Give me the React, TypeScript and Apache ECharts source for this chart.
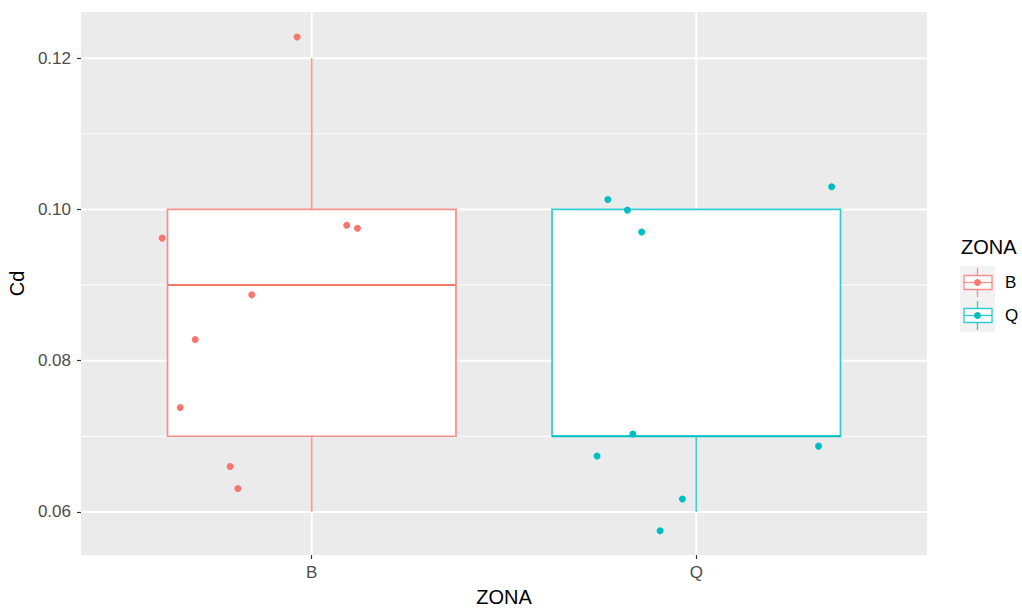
import React, { useEffect, useRef } from 'react';
import * as echarts from 'echarts';

const categories = ['B', 'Q'];
const zoneColors = ['#F8766D', '#00BFC4'];
// box stats per zone: [lower whisker, Q1, median, Q3, upper whisker]
const boxB = [0.06, 0.07, 0.09, 0.1, 0.12];
const boxQ = [0.06, 0.07, 0.07, 0.1, 0.1];
// jittered points (x in category units, B = 1, Q = 2)
const pointsBx = [0.962, 0.611, 1.091, 1.119, 0.844, 0.697, 0.658, 0.788, 0.808];
const pointsBy = [0.1228, 0.0962, 0.0979, 0.0975, 0.0887, 0.0828, 0.0738, 0.066, 0.0631];
const pointsQx = [1.77, 1.821, 1.858, 2.352, 1.835, 1.742, 2.318, 1.964, 1.906];
const pointsQy = [0.1013, 0.0999, 0.097, 0.103, 0.0703, 0.0674, 0.0687, 0.0617, 0.0575];
const yTicks = [0.06, 0.08, 0.1, 0.12];
const yMinor = [0.07, 0.09, 0.11];
const xTicks = [1, 2];

const X_MIN = 0.4;
const X_MAX = 2.6;
const Y_MIN = 0.0543;
const Y_MAX = 0.1261;

const FONT = '"Liberation Sans", Arial, sans-serif';

export default function App() {
  const ref = useRef<HTMLDivElement>(null);

  useEffect(() => {
    if (!ref.current) return;
    const chart = echarts.init(ref.current, null, { renderer: 'svg' });

    const gridData: number[][] = [];
    yTicks.forEach((v) => gridData.push([X_MIN, v, 2, 0]));
    yMinor.forEach((v) => gridData.push([X_MIN, v, 1, 0]));
    xTicks.forEach((v) => gridData.push([v, Y_MIN, 2, 1]));

    const boxData = [
      [1, ...boxB, 0],
      [2, ...boxQ, 1],
    ];

    const legendKey = (cy: number, color: string) => ({
      type: 'group',
      children: [
        { type: 'rect', shape: { x: 960, y: cy - 16.5, width: 35, height: 33 }, style: { fill: '#F2F2F2' } },
        { type: 'line', shape: { x1: 977.5, y1: cy - 14.5, x2: 977.5, y2: cy + 14.5 }, style: { stroke: color, lineWidth: 1.3, opacity: 0.8 } },
        { type: 'rect', shape: { x: 964, y: cy - 7, width: 28, height: 14 }, style: { fill: '#FFFFFF', stroke: color, lineWidth: 1.3, strokeOpacity: 0.8 } },
        { type: 'line', shape: { x1: 964, y1: cy, x2: 992, y2: cy }, style: { stroke: color, lineWidth: 1.3, opacity: 0.8 } },
        { type: 'circle', shape: { cx: 977.5, cy, r: 3.4 }, style: { fill: color } },
      ],
    });

    chart.setOption({
      animation: false,
      backgroundColor: '#FFFFFF',
      textStyle: { fontFamily: FONT },
      grid: {
        left: 81,
        right: 95,
        top: 12,
        bottom: 54,
        outerBoundsMode: 'none',
        containLabel: false,
        show: true,
        backgroundColor: '#EBEBEB',
        borderWidth: 0,
      },
      xAxis: {
        type: 'value',
        min: X_MIN,
        max: X_MAX,
        axisLine: { show: false },
        splitLine: { show: false },
        axisTick: {
          show: true,
          customValues: xTicks,
          length: 4,
          lineStyle: { color: '#333333', width: 1.2 },
        },
        axisLabel: {
          customValues: xTicks,
          formatter: (v: number) => categories[Math.round(v) - 1] ?? '',
          color: '#4D4D4D',
          fontSize: 17,
          margin: 9,
          fontFamily: FONT,
        },
        name: 'ZONA',
        nameLocation: 'middle',
        nameGap: 32,
        nameTextStyle: { fontSize: 20, color: '#000000', fontFamily: FONT },
      },
      yAxis: {
        type: 'value',
        min: Y_MIN,
        max: Y_MAX,
        axisLine: { show: false },
        splitLine: { show: false },
        axisTick: {
          show: true,
          customValues: yTicks,
          length: 4,
          lineStyle: { color: '#333333', width: 1.2 },
        },
        axisLabel: {
          customValues: yTicks,
          formatter: (v: number) => v.toFixed(2),
          color: '#4D4D4D',
          fontSize: 17,
          margin: 10,
          fontFamily: FONT,
        },
        name: 'Cd',
        nameLocation: 'middle',
        nameGap: 54,
        nameTextStyle: { fontSize: 20, color: '#000000', fontFamily: FONT },
      },
      graphic: [
        {
          type: 'text',
          x: 961,
          y: 247,
          style: { text: 'ZONA', fill: '#000000', font: `20px ${FONT}`, verticalAlign: 'middle' },
        },
        legendKey(282.5, zoneColors[0]),
        legendKey(315.5, zoneColors[1]),
        {
          type: 'text',
          x: 1005,
          y: 282.5,
          style: { text: categories[0], fill: '#000000', font: `17px ${FONT}`, verticalAlign: 'middle' },
        },
        {
          type: 'text',
          x: 1005,
          y: 315.5,
          style: { text: categories[1], fill: '#000000', font: `17px ${FONT}`, verticalAlign: 'middle' },
        },
      ],
      series: [
        {
          type: 'custom',
          name: 'grid',
          z: 1,
          silent: true,
          encode: { x: 0, y: 1 },
          data: gridData,
          renderItem: (params: any, api: any) => {
            const cs = params.coordSys;
            const w = api.value(2);
            const vertical = api.value(3) === 1;
            if (vertical) {
              const px = api.coord([api.value(0), Y_MIN])[0];
              return {
                type: 'line',
                shape: { x1: px, y1: cs.y, x2: px, y2: cs.y + cs.height },
                style: { stroke: '#FFFFFF', lineWidth: w },
              };
            }
            const py = api.coord([X_MIN, api.value(1)])[1];
            return {
              type: 'line',
              shape: { x1: cs.x, y1: py, x2: cs.x + cs.width, y2: py },
              style: { stroke: '#FFFFFF', lineWidth: w },
            };
          },
        },
        {
          type: 'custom',
          name: 'box',
          z: 2,
          silent: true,
          encode: { x: 0, y: [1, 2, 3, 4, 5] },
          data: boxData,
          renderItem: (params: any, api: any) => {
            const x = api.value(0);
            const color = zoneColors[api.value(6)];
            const half = api.size([0.375, 0])[0];
            const cx = api.coord([x, api.value(1)])[0];
            const yLow = api.coord([x, api.value(1)])[1];
            const yQ1 = api.coord([x, api.value(2)])[1];
            const yMed = api.coord([x, api.value(3)])[1];
            const yQ3 = api.coord([x, api.value(4)])[1];
            const yHigh = api.coord([x, api.value(5)])[1];
            const lw = 1.7;
            return {
              type: 'group',
              children: [
                { type: 'line', shape: { x1: cx, y1: yHigh, x2: cx, y2: yQ3 }, style: { stroke: color, lineWidth: lw, opacity: 0.75 } },
                { type: 'line', shape: { x1: cx, y1: yQ1, x2: cx, y2: yLow }, style: { stroke: color, lineWidth: lw, opacity: 0.75 } },
                {
                  type: 'rect',
                  shape: { x: cx - half, y: yQ3, width: half * 2, height: yQ1 - yQ3 },
                  style: { fill: '#FFFFFF', stroke: color, lineWidth: lw, strokeOpacity: 0.8 },
                },
                { type: 'line', shape: { x1: cx - half, y1: yMed, x2: cx + half, y2: yMed }, style: { stroke: color, lineWidth: 2.2 } },
              ],
            };
          },
        },
        {
          type: 'scatter',
          name: categories[0],
          z: 3,
          symbolSize: 7,
          itemStyle: { color: zoneColors[0], opacity: 1 },
          data: pointsBx.map((x, i) => [x, pointsBy[i]]),
        },
        {
          type: 'scatter',
          name: categories[1],
          z: 3,
          symbolSize: 7,
          itemStyle: { color: zoneColors[1], opacity: 1 },
          data: pointsQx.map((x, i) => [x, pointsQy[i]]),
        },
      ],
    });

    return () => {
      chart.dispose();
    };
  }, []);

  return (
    <div
      ref={ref}
      style={{ position: 'fixed', left: 0, top: 0, width: 1022, height: 609, background: '#FFFFFF' }}
    />
  );
}
